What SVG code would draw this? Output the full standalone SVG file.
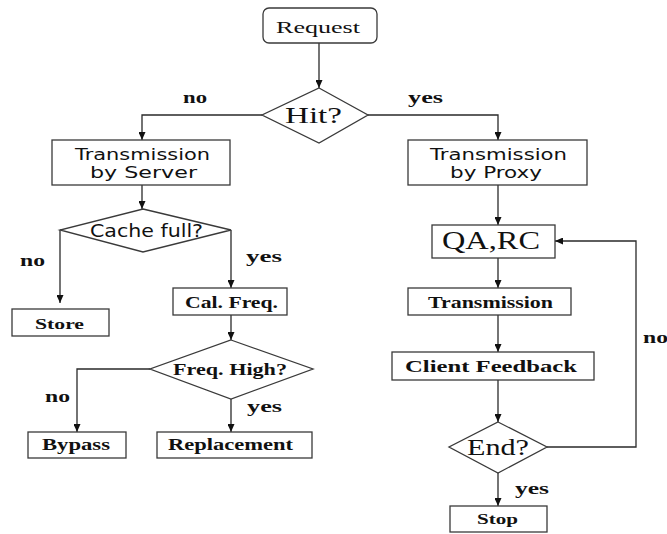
<svg xmlns="http://www.w3.org/2000/svg" width="667" height="534" viewBox="0 0 667 534">
  <style>
    .box { fill: #ffffff; stroke: #3a3a3a; stroke-width: 1.3; }
    .wire { fill: none; stroke: #2a2a2a; stroke-width: 1.3; }
    .serif { font-family: "Liberation Serif", "Times New Roman", serif; fill: #111; }
    .sans { font-family: "DejaVu Sans", Verdana, sans-serif; fill: #111; }
    .b { font-weight: bold; }
  </style>
  <defs>
    <marker id="arrow" viewBox="0 0 8 7" refX="8" refY="3.5" markerWidth="8" markerHeight="7" markerUnits="userSpaceOnUse" orient="auto">
      <path d="M0,0 L8,3.5 L0,7 z" fill="#111"/>
    </marker>
  </defs>
  <rect width="667" height="534" fill="#ffffff"/>

  <!-- connectors -->
  <g id="connectors" class="wire">
    <path d="M319,43 V88" marker-end="url(#arrow)"/>
    <path d="M262,115 H142 V140" marker-end="url(#arrow)"/>
    <path d="M368,115 H498 V140" marker-end="url(#arrow)"/>
    <path d="M142,185 V209" marker-end="url(#arrow)"/>
    <path d="M60,230 V303" marker-end="url(#arrow)"/>
    <path d="M231,230 V288" marker-end="url(#arrow)"/>
    <path d="M231,315 V340" marker-end="url(#arrow)"/>
    <path d="M150,369 H77 V432" marker-end="url(#arrow)"/>
    <path d="M231,399 V432" marker-end="url(#arrow)"/>
    <path d="M498,185 V225" marker-end="url(#arrow)"/>
    <path d="M498,258 V288" marker-end="url(#arrow)"/>
    <path d="M498,315 V352" marker-end="url(#arrow)"/>
    <path d="M498,380 V422" marker-end="url(#arrow)"/>
    <path d="M498,473 V506" marker-end="url(#arrow)"/>
    <path d="M547,447 H636 V241 H555" marker-end="url(#arrow)"/>
  </g>

  <!-- branch labels -->
  <g id="labels" class="serif b" font-size="16">
    <text x="183" y="103" textLength="24" lengthAdjust="spacingAndGlyphs">no</text>
    <text x="408" y="103" textLength="35" lengthAdjust="spacingAndGlyphs">yes</text>
    <text x="20" y="266" textLength="25" lengthAdjust="spacingAndGlyphs">no</text>
    <text x="246" y="262" textLength="36" lengthAdjust="spacingAndGlyphs">yes</text>
    <text x="45" y="402" textLength="25" lengthAdjust="spacingAndGlyphs">no</text>
    <text x="247" y="412" textLength="35" lengthAdjust="spacingAndGlyphs">yes</text>
    <text x="515" y="494" textLength="34" lengthAdjust="spacingAndGlyphs">yes</text>
    <text x="643" y="343" textLength="25" lengthAdjust="spacingAndGlyphs">no</text>
  </g>

  <g id="request">
    <rect class="box" x="263" y="8" width="114" height="35" rx="6"/>
    <text class="serif" x="276" y="33" font-size="17" textLength="84" lengthAdjust="spacingAndGlyphs">Request</text>
  </g>

  <g id="hit">
    <polygon class="box" points="319,88 368,115 319,143 262,115"/>
    <text class="serif" x="285" y="123" font-size="24" textLength="57" lengthAdjust="spacingAndGlyphs">Hit?</text>
  </g>

  <g id="transmission-server">
    <rect class="box" x="52" y="140" width="178" height="45"/>
    <text class="sans" x="75" y="160" font-size="15" textLength="135" lengthAdjust="spacingAndGlyphs">Transmission</text>
    <text class="sans" x="90" y="178" font-size="15" textLength="107" lengthAdjust="spacingAndGlyphs">by Server</text>
  </g>

  <g id="transmission-proxy">
    <rect class="box" x="408" y="140" width="179" height="45"/>
    <text class="sans" x="430" y="160" font-size="15" textLength="137" lengthAdjust="spacingAndGlyphs">Transmission</text>
    <text class="sans" x="450" y="178" font-size="15" textLength="92" lengthAdjust="spacingAndGlyphs">by Proxy</text>
  </g>

  <g id="cache-full">
    <polygon class="box" points="143,209 231,230 143,252 60,230"/>
    <text class="sans" x="90" y="237" font-size="17" textLength="113" lengthAdjust="spacingAndGlyphs">Cache full?</text>
  </g>

  <g id="store">
    <rect class="box" x="12" y="309" width="97" height="27"/>
    <text class="serif b" x="35" y="329" font-size="15" textLength="49" lengthAdjust="spacingAndGlyphs">Store</text>
  </g>

  <g id="cal-freq">
    <rect class="box" x="173" y="288" width="114" height="27"/>
    <text class="serif b" x="185" y="308" font-size="16" textLength="93" lengthAdjust="spacingAndGlyphs">Cal. Freq.</text>
  </g>

  <g id="freq-high">
    <polygon class="box" points="231,340 313,369 231,399 150,369"/>
    <text class="serif b" x="173" y="375" font-size="16" textLength="114" lengthAdjust="spacingAndGlyphs">Freq. High?</text>
  </g>

  <g id="bypass">
    <rect class="box" x="28" y="432" width="98" height="26"/>
    <text class="serif b" x="42" y="450" font-size="16" textLength="68" lengthAdjust="spacingAndGlyphs">Bypass</text>
  </g>

  <g id="replacement">
    <rect class="box" x="157" y="432" width="155" height="26"/>
    <text class="serif b" x="168" y="450" font-size="16" textLength="125" lengthAdjust="spacingAndGlyphs">Replacement</text>
  </g>

  <g id="qa-rc">
    <rect class="box" x="432" y="225" width="123" height="33"/>
    <text class="serif" x="442" y="249" font-size="25" textLength="98" lengthAdjust="spacingAndGlyphs">QA,RC</text>
  </g>

  <g id="transmission">
    <rect class="box" x="408" y="288" width="163" height="27"/>
    <text class="serif b" x="428" y="308" font-size="16" textLength="125" lengthAdjust="spacingAndGlyphs">Transmission</text>
  </g>

  <g id="client-feedback">
    <rect class="box" x="392" y="352" width="202" height="28"/>
    <text class="serif b" x="405" y="372" font-size="16" textLength="172" lengthAdjust="spacingAndGlyphs">Client Feedback</text>
  </g>

  <g id="end">
    <polygon class="box" points="498,422 547,447 498,473 449,447"/>
    <text class="serif" x="467" y="455" font-size="23" textLength="62" lengthAdjust="spacingAndGlyphs">End?</text>
  </g>

  <g id="stop">
    <rect class="box" x="450" y="506" width="97" height="26"/>
    <text class="serif b" x="477" y="524" font-size="15" textLength="41" lengthAdjust="spacingAndGlyphs">Stop</text>
  </g>
</svg>
